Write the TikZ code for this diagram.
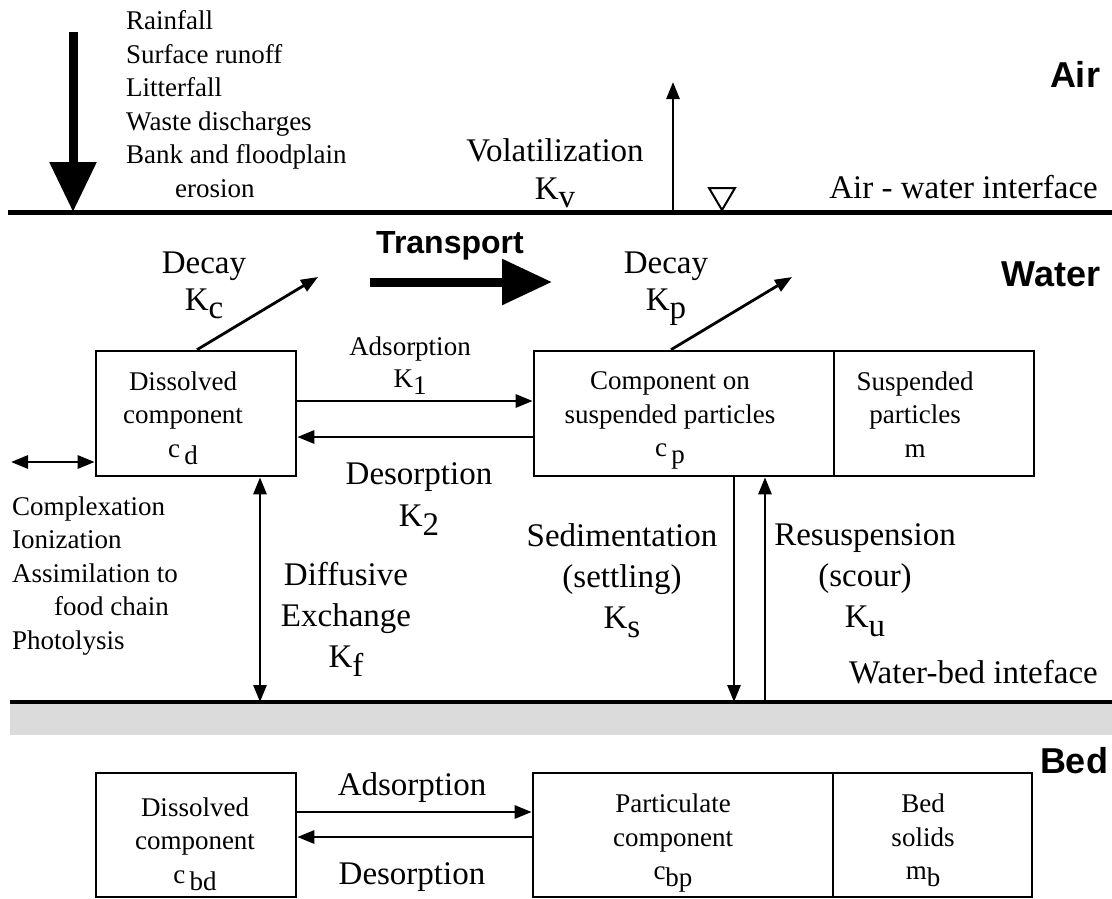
\documentclass[tikz,border=0pt]{standalone}
\usepackage{fontspec}
\setmainfont{Liberation Serif}
\setsansfont{Liberation Sans}
\usepackage{tikz}
\usetikzlibrary{arrows.meta}

\newcommand\fsm{\fontsize{27pt}{33.5pt}\selectfont}
\newcommand\flg{\fontsize{33pt}{41pt}\selectfont}
\newcommand\fmd{\fontsize{33pt}{38pt}\selectfont}
\newcommand\fzone{\fontsize{36pt}{40pt}\selectfont\sffamily\bfseries}
\newcommand\dn[1]{\raisebox{-0.26em}{#1}}

\tikzset{
    >={Triangle[length=17pt,width=13pt]},
    box/.style={draw, line width=2.6pt, inner sep=0pt},
    smalltxt/.style={font=\fsm, inner sep=0pt, align=center},
    bigtxt/.style={font=\flg, inner sep=0pt, align=center},
    zone/.style={font=\fzone, inner sep=0pt},
    flow/.style={line width=2.8pt, ->},
    bigflow/.style={line width=9pt, -{Triangle[length=50pt,width=45pt]}},
}

\begin{document}
\begin{tikzpicture}[x=1pt,y=-1pt]
\useasboundingbox (0,0) rectangle (1112,898);

% interfaces
\coordinate (awL) at (8,212);
\coordinate (awR) at (1112,212);
\coordinate (wbL) at (10,702);
\coordinate (wbR) at (1112,702);
\fill[black!14] (10,704) rectangle (1112,735);
\draw[line width=5pt] (awL) -- (awR);
\draw[line width=3.5pt] (wbL) -- (wbR);
\draw[line width=2pt] (709,188) -- (735,188) -- (722,210) -- cycle;

\node[zone] (air) at (1075,74) {Air};
\node[zone] (water) at (1051,274) {Water};
\node[zone] (bed) at (1074,761) {Bed};
\node[font=\fmd, inner sep=0pt, anchor=base east] (awtxt) at (1098,198) {Air - water interface};
\node[font=\fmd, inner sep=0pt, anchor=base east] (wbtxt) at (1098,683) {Water-bed inteface};

% inputs from outside
\coordinate (src) at (73,32);
\draw[bigflow] (src) -- (src |- awL);
\node[smalltxt, align=left, anchor=north west] (inputs) at (126,10.5)
    {Rainfall\\Surface runoff\\Litterfall\\Waste discharges\\Bank and floodplain\\\hspace*{49pt}erosion};

% volatilization
\coordinate (kv) at (673,82);
\draw[flow] (kv |- awL) -- (kv);
\node[bigtxt, anchor=north] (vol) at (555,138) {Volatilization\\[-3pt]K\dn{v}};

% water column
\node[box, minimum width=200pt, minimum height=125pt] (diss) at (196,413.5) {};
\node[box, minimum width=300pt, minimum height=125pt] (comp) at (684,413.5) {};
\node[box, minimum width=200pt, minimum height=125pt] (susp) at (934,413.5) {};
\node[smalltxt, anchor=north] (dissT) at (183,371.5) {Dissolved\\component\\c\,\dn{d}};
\node[smalltxt, anchor=north] (compT) at (670,371.5) {Component on\\suspended particles\\c\,\dn{p}};
\node[smalltxt, anchor=north] (suspT) at (915,371.5) {Suspended\\particles\\m};

\coordinate (kc) at (318,277);
\coordinate (kp) at (792,277);
\draw[flow] ([xshift=1pt]diss.north) -- (kc);
\draw[flow] ([xshift=-13pt]comp.north) -- (kp);
\node[bigtxt, anchor=north] (decC) at (204,251.5) {Decay\\[-4pt]K\dn{c}};
\node[bigtxt, anchor=north] (decP) at (666,251.5) {Decay\\[-4pt]K\dn{p}};

\coordinate (tr1) at (370,282);
\coordinate (tr2) at (552,282);
\draw[line width=9pt, -{Triangle[length=50pt,width=44pt]}] (tr1) -- (tr2);
\node[font=\fontsize{32pt}{36pt}\selectfont\sffamily\bfseries, inner sep=0pt, anchor=base] (trans) at (450,253) {Transport};

\draw[flow] ([yshift=12.5pt]diss.east) -- ([yshift=12.5pt]comp.west);
\draw[flow] ([yshift=-23.5pt]comp.west) -- ([yshift=-23.5pt]diss.east);
\node[smalltxt, anchor=north] (ads) at (410,336.5) {Adsorption\\[-1.5pt]K\dn{1}};
\node[bigtxt, anchor=north] (des) at (419,462.5) {Desorption\\[1pt]K\dn{2}};

\coordinate (cx) at (11,462);
\draw[flow, <->] (cx) -- (cx -| diss.west);
\node[smalltxt, align=left, anchor=north west] (react) at (12,496.5)
    {Complexation\\Ionization\\Assimilation to\\\hspace*{42pt}food chain\\Photolysis};

\coordinate (dfTop) at ([xshift=64pt]diss.south);
\draw[flow, <->] (dfTop) -- (dfTop |- wbL);
\node[bigtxt, anchor=north] (diff) at (346,562.5) {Diffusive\\Exchange\\K\dn{f}};

\coordinate (sedTop) at ([xshift=50pt]comp.south);
\coordinate (resTop) at ([xshift=81pt]comp.south);
\draw[flow] (sedTop) -- (sedTop |- wbL);
\draw[flow] (resTop |- wbL) -- (resTop);
\node[bigtxt, anchor=north] (sed) at (622,523.5) {Sedimentation\\(settling)\\K\dn{s}};
\node[bigtxt, anchor=north] (res) at (865,523.5) {Resuspension\\(scour)\\K\dn{u}};

% bed
\node[box, minimum width=200pt, minimum height=124pt] (bdiss) at (196,835) {};
\node[box, minimum width=300pt, minimum height=124pt] (bpart) at (683,835) {};
\node[box, minimum width=199pt, minimum height=124pt] (bsol) at (932.5,835) {};
\node[smalltxt, anchor=north] (bdissT) at (195,797.5) {Dissolved\\component\\c\,\dn{bd}};
\node[smalltxt, anchor=north] (bpartT) at (673,794) {Particulate\\component\\c\dn{bp}};
\node[smalltxt, anchor=north] (bsolT) at (923,794) {Bed\\solids\\m\dn{b}};

\draw[flow] ([yshift=23pt]bdiss.east) -- ([yshift=23pt]bpart.west);
\draw[flow] ([yshift=-2pt]bpart.west) -- ([yshift=-2pt]bdiss.east);
\node[bigtxt, anchor=base] (bads) at (412,795) {Adsorption};
\node[bigtxt, anchor=base] (bdes) at (412,884) {Desorption};
\end{tikzpicture}
\end{document}
